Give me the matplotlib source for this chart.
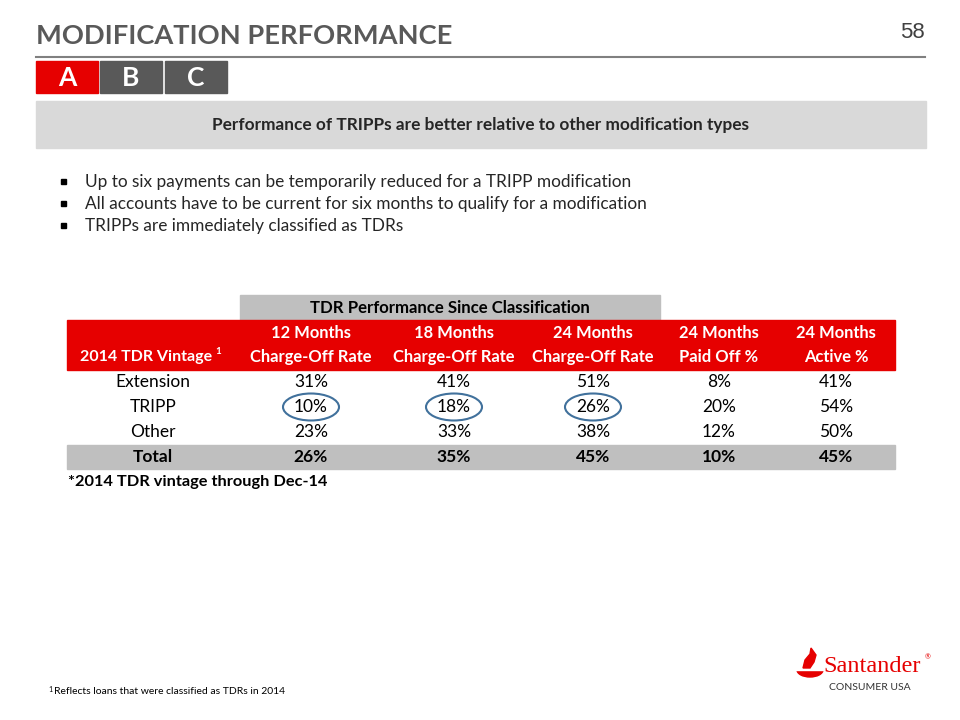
import matplotlib
matplotlib.use("Agg")
import matplotlib.pyplot as plt
from matplotlib.patches import Rectangle, Ellipse, Polygon

plt.rcParams["font.family"] = ["Lato", "DejaVu Sans"]

# slide content
title = "MODIFICATION PERFORMANCE"
page_no = "58"
tabs = ["A", "B", "C"]
banner = "Performance of TRIPPs are better relative to other modification types"
bullets = [
    "Up to six payments can be temporarily reduced for a TRIPP modification",
    "All accounts have to be current for six months to qualify for a modification",
    "TRIPPs are immediately classified as TDRs",
]

# table data
group_header = "TDR Performance Since Classification"
col_top = ["12 Months", "18 Months", "24 Months", "24 Months", "24 Months"]
col_bottom = ["Charge-Off Rate", "Charge-Off Rate", "Charge-Off Rate", "Paid Off %", "Active %"]
row_labels = ["Extension", "TRIPP", "Other", "Total"]
values = [
    [31, 41, 51, 8, 41],
    [10, 18, 26, 20, 54],
    [23, 33, 38, 12, 50],
    [26, 35, 45, 10, 45],
]
circled = [(1, 0), (1, 1), (1, 2)]
table_note = "*2014 TDR vintage through Dec-14"
footnote = "Reflects loans that were classified as TDRs in 2014"

RED = "#e60000"
DARK = "#595959"
TXT = "#262626"

fig = plt.figure(figsize=(9.6, 7.2), dpi=100)
ax = fig.add_axes([0, 0, 1, 1])
ax.set_xlim(0, 960)
ax.set_ylim(720, 0)
ax.axis("off")

# header
ax.text(36, 36, title, fontsize=19.6, fontweight="bold", color=DARK, va="center", ha="left")
ax.text(925, 33, page_no, fontsize=16, color="#404040", va="center", ha="right",
        family="Liberation Sans")
ax.plot([36, 925], [57, 57], color="#808080", lw=1.5)

tab_x = [36, 100, 165]
for i, t in enumerate(tabs):
    ax.add_patch(Rectangle((tab_x[i], 61), 62, 32, color=RED if i == 0 else DARK))
    ax.text(tab_x[i] + 31, 78, t, fontsize=19, fontweight="bold", color="white",
            ha="center", va="center")

# banner
ax.add_patch(Rectangle((36, 101), 890, 47, color="#d9d9d9"))
ax.text(481, 125, banner, fontsize=12.4, fontweight="bold", color=TXT, ha="center", va="center")

# bullets
for i, b in enumerate(bullets):
    y = 182 + i * 22
    ax.add_patch(Rectangle((61, y - 3), 5, 5, color="black"))
    ax.text(85, y, b, fontsize=12.4, color=TXT, ha="left", va="center")

# table
col_x = [311, 454, 593, 719, 836]
ax.add_patch(Rectangle((240, 295), 420, 25, color="#bfbfbf"))
ax.text(450, 308, group_header, fontsize=12.1, fontweight="bold", color="black",
        ha="center", va="center")
ax.add_patch(Rectangle((67, 320), 828, 50, color=RED))
for j in range(len(col_top)):
    ax.text(col_x[j], 333, col_top[j], fontsize=11.9, fontweight="bold", color="white",
            ha="center", va="center")
    ax.text(col_x[j], 357, col_bottom[j], fontsize=11.9, fontweight="bold", color="white",
            ha="center", va="center")
ax.text(212, 357, "2014 TDR Vintage", fontsize=11.5, fontweight="bold", color="white",
        ha="right", va="center")
ax.text(215, 351, "1", fontsize=7, fontweight="bold", color="white", ha="left", va="center")

row_y = [382, 407, 432, 457]
ax.add_patch(Rectangle((67, 445), 828, 24, color="#bfbfbf"))
for i, lab in enumerate(row_labels):
    w = "bold" if lab == "Total" else "normal"
    ax.text(153, row_y[i], lab, fontsize=12.5, fontweight=w, color="black",
            ha="center", va="center")
    for j, v in enumerate(values[i]):
        ax.text(col_x[j], row_y[i], f"{v}%", fontsize=12.5, fontweight=w, color="black",
                ha="center", va="center")

for (i, j) in circled:
    ax.add_patch(Ellipse((col_x[j], row_y[i]), 56, 27, fill=False, ec="#41719c", lw=1.5))

ax.text(68, 482, table_note, fontsize=11.8, fontweight="bold", color="black",
        ha="left", va="center")

# footnote
ax.text(48, 690, "1", fontsize=5, color="black", ha="left", va="center")
ax.text(54, 691, footnote, fontsize=7.5, color="black", ha="left", va="center")

# logo
ax.add_patch(Ellipse((810, 670), 26, 14, color=RED))
ax.add_patch(Rectangle((795, 660), 30, 10, color="white"))
ax.add_patch(Polygon([(803, 668), (805, 660), (810, 654), (811, 648), (816, 655),
                      (814, 662), (810, 668)], closed=True, color=RED))
ax.text(823, 666, "Santander", fontsize=17.5, color=RED, ha="left", va="center",
        family="Liberation Serif")
ax.text(925, 657, "®", fontsize=5, color=RED, ha="left", va="center")
ax.text(829, 688, "CONSUMER USA", fontsize=7.5, color="#333333", ha="left", va="center")

fig.savefig("out.png", dpi=100)
